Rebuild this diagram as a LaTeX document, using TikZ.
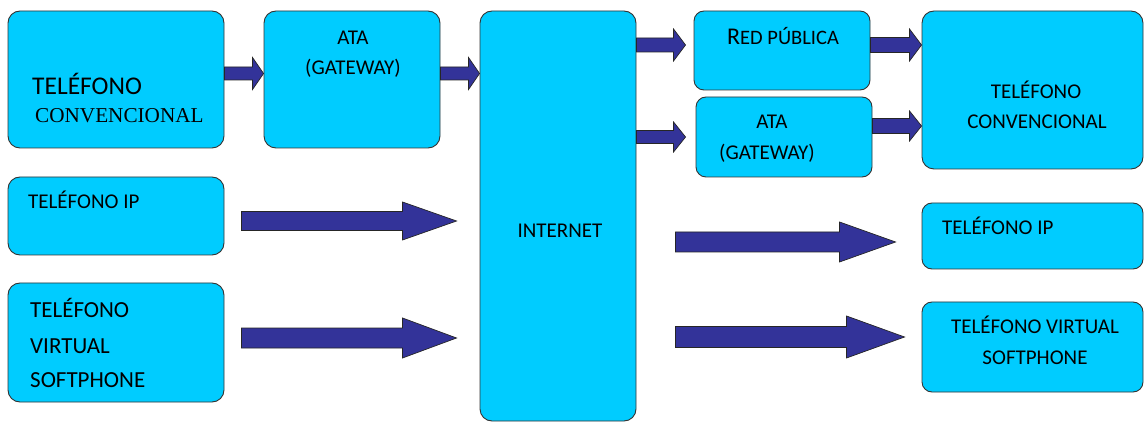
\documentclass[tikz,border=0pt]{standalone}
\usepackage{fontspec}
\setmainfont{Carlito}
\newfontfamily\serifa{Liberation Serif}
\usetikzlibrary{calc}
\definecolor{celeste}{HTML}{00CCFF}
\definecolor{azul}{HTML}{333399}
% block arrow: start, end, half shaft, half head, head length
\newcommand{\flecha}[5]{%
  \filldraw[flecha] let \p1=(#1), \p2=(#2) in
    (\x1,\y1+#3) -- (\x2-#5,\y1+#3) -- (\x2-#5,\y1+#4) -- (\x2,\y1)
    -- (\x2-#5,\y1-#4) -- (\x2-#5,\y1-#3) -- (\x1,\y1-#3) -- cycle;}
\begin{document}
\begin{tikzpicture}[x=1pt,y=-1pt,
  caja/.style={draw=black!80, fill=celeste, line width=0.9pt, rounded corners=12pt, inner sep=0pt},
  flecha/.style={draw=black!85, fill=azul, line width=0.7pt, line join=miter},
  txt/.style={inner sep=0pt, font=\fontsize{21}{25}\selectfont}]
		\useasboundingbox (0,0) rectangle (1144,422);

		% boxes
		\node[caja, minimum width=216, minimum height=137] (tconv) at (116,79.5) {};
		\node[caja, minimum width=176, minimum height=137] (ata) at (352,79.5) {};
		\node[caja, minimum width=216, minimum height=78] (tip) at (116,216) {};
		\node[caja, minimum width=216, minimum height=119] (tvir) at (116,342.5) {};
		\node[caja, minimum width=156, minimum height=410] (inet) at (558,216) {};
		\node[caja, minimum width=176, minimum height=79, rounded corners=10pt] (red) at (782,50.5) {};
		\node[caja, minimum width=176, minimum height=80, rounded corners=10pt] (ata2) at (784,137) {};
		\node[caja, minimum width=221, minimum height=158] (tconv2) at (1032.5,90) {};
		\node[caja, minimum width=221, minimum height=66, rounded corners=10pt] (tip2) at (1032.5,236) {};
		\node[caja, minimum width=221, minimum height=90, rounded corners=10pt] (tvir2) at (1032.5,347) {};

		% texts
		\node[txt, anchor=base west, font=\fontsize{25.5}{30}\selectfont] at (32,95) {TELÉFONO};
		\node[txt, anchor=base west, font=\fontsize{21.2}{25}\serifa] at (35,123) {CONVENCIONAL};
		\node[txt, anchor=base] at (353,45) {ATA};
		\node[txt, anchor=base] at (353,75) {(GATEWAY)};
		\node[txt, anchor=base west] at (28,209) {TELÉFONO IP};
		\node[txt, anchor=base west, font=\fontsize{23}{27}\selectfont] at (30,318) {TELÉFONO};
		\node[txt, anchor=base west, font=\fontsize{23}{27}\selectfont] at (30,353) {VIRTUAL};
		\node[txt, anchor=base west, font=\fontsize{23}{27}\selectfont] at (30,387) {SOFTPHONE};
		\node[txt, anchor=base] at (560,238) {INTERNET};
		\node[txt, anchor=base] at (783,45) {{\fontsize{24}{28}\selectfont R}{\fontsize{20.5}{24}\selectfont ED PÚBLICA}};
		\node[txt, anchor=base] at (772,129) {ATA};
		\node[txt, anchor=base] at (767,160) {(GATEWAY)};
		\node[txt, anchor=base] at (1036,99) {TELÉFONO};
		\node[txt, anchor=base] at (1037,129) {CONVENCIONAL};
		\node[txt, anchor=base west] at (942,235) {TELÉFONO IP};
		\node[txt, anchor=base] at (1035,334) {TELÉFONO VIRTUAL};
		\node[txt, anchor=base] at (1035,364) {SOFTPHONE};

		% arrow levels
		\coordinate (n1) at (0,73.5);
		\coordinate (n2) at (0,45);
		\coordinate (n3) at (0,137);
		\coordinate (n4) at (0,126);
		\coordinate (n5) at (0,221);
		\coordinate (n6) at (0,338);
		\coordinate (n7) at (0,242);
		\coordinate (n8) at (0,337);

		% arrows
		\flecha{tconv.east |- n1}{ata.west |- n1}{6.5pt}{16pt}{11pt}
		\flecha{ata.east |- n1}{inet.west |- n1}{6.5pt}{16pt}{11pt}
		\flecha{inet.east |- n2}{[xshift=-8pt]red.west |- n2}{7pt}{16pt}{12pt}
		\flecha{inet.east |- n3}{[xshift=-10pt]ata2.west |- n3}{6.5pt}{15pt}{12pt}
		\flecha{red.east |- n2}{tconv2.west |- n2}{7.5pt}{16pt}{12pt}
		\flecha{ata2.east |- n4}{tconv2.west |- n4}{7.5pt}{15pt}{12pt}
		\flecha{[xshift=17pt]tip.east |- n5}{[xshift=-23pt]inet.west |- n5}{9.5pt}{19pt}{54pt}
		\flecha{[xshift=17pt]tvir.east |- n6}{[xshift=-23pt]inet.west |- n6}{10pt}{20pt}{54pt}
		\flecha{[xshift=39pt]inet.east |- n7}{[xshift=-26pt]tip2.west |- n7}{10pt}{20pt}{56pt}
		\flecha{[xshift=39pt]inet.east |- n8}{[xshift=-17pt]tvir2.west |- n8}{10.5pt}{21pt}{58pt}
	\end{tikzpicture}
\end{document}
